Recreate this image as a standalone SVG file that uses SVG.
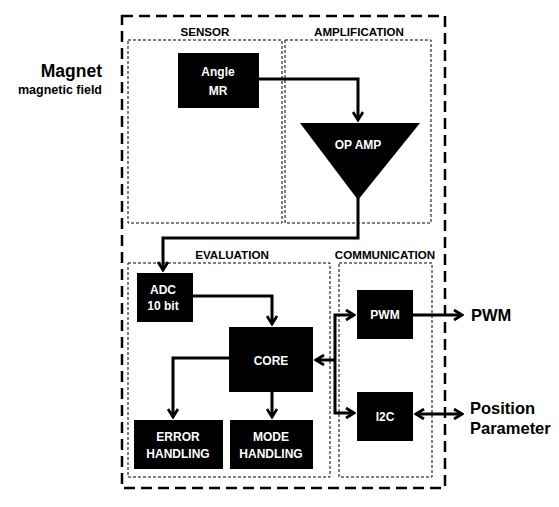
<svg xmlns="http://www.w3.org/2000/svg" width="559" height="507" viewBox="0 0 559 507">
<defs>
<style>
text{font-family:"Liberation Sans",Arial,sans-serif;font-weight:bold}
.box{fill:#000}
.wt{fill:#fff;font-size:12px;text-anchor:middle}
.sec{fill:#000;font-size:11.6px;text-anchor:middle}
.area{fill:none;stroke:#000;stroke-width:1;stroke-dasharray:3,2}
.c{fill:none;stroke:#000;stroke-width:3}
.out{font-size:16.5px}
</style>
<marker id="ah" viewBox="0 0 12 12" refX="10" refY="6" markerWidth="12" markerHeight="12" markerUnits="userSpaceOnUse" orient="auto-start-reverse">
<path d="M2,1 L10,6 L2,11" fill="none" stroke="#000" stroke-width="2.8"/>
</marker>
</defs>
<rect width="559" height="507" fill="#fff"/>
<g id="outer"><rect x="122" y="16" width="323" height="472" fill="none" stroke="#000" stroke-width="2.5" stroke-dasharray="11,6"/></g>
<g id="magnet">
<text x="102" y="77" font-size="17.5" text-anchor="end">Magnet</text>
<text x="102" y="94" font-size="12.5" text-anchor="end">magnetic field</text>
</g>
<g id="sensor"><rect class="area" x="128" y="40" width="154" height="183"/><text class="sec" x="205" y="36">SENSOR</text></g>
<g id="amplification"><rect class="area" x="285" y="40" width="146" height="183"/><text class="sec" x="359" y="36">AMPLIFICATION</text></g>
<g id="evaluation"><rect class="area" x="128" y="263" width="202" height="214"/><text class="sec" x="232" y="259">EVALUATION</text></g>
<g id="communication"><rect class="area" x="339" y="263" width="93" height="214"/><text class="sec" x="385" y="259">COMMUNICATION</text></g>
<g id="connectors">
<polyline class="c" points="259,79 358,79 358,120" marker-end="url(#ah)"/>
<polyline class="c" points="358,198 358,238 163,238 163,270" marker-end="url(#ah)"/>
<polyline class="c" points="193,296 272,296 272,324" marker-end="url(#ah)"/>
<polyline class="c" points="229,358 173,358 173,417" marker-end="url(#ah)"/>
<line class="c" x1="272" y1="392" x2="272" y2="417" marker-end="url(#ah)"/>
<line class="c" x1="335" y1="360" x2="316" y2="360" marker-end="url(#ah)"/>
<polyline class="c" points="354,315 335,315 335,413 354,413" marker-start="url(#ah)" marker-end="url(#ah)"/>
<line class="c" x1="413" y1="315" x2="462" y2="315" marker-end="url(#ah)"/>
<line class="c" x1="416" y1="414" x2="462" y2="414" marker-start="url(#ah)" marker-end="url(#ah)"/>
</g>
<g id="angle-mr"><rect class="box" x="178" y="53" width="81" height="55"/><text class="wt" x="218" y="76">Angle</text><text class="wt" x="218" y="95">MR</text></g>
<g id="op-amp"><polygon class="box" points="300,123 420,123 358,200"/><text class="wt" x="358" y="149">OP AMP</text></g>
<g id="adc"><rect class="box" x="137" y="273" width="56" height="49"/><text class="wt" x="163" y="294">ADC</text><text class="wt" x="163" y="310">10 bit</text></g>
<g id="core"><rect class="box" x="229" y="327" width="84" height="65"/><text class="wt" x="271" y="365">CORE</text></g>
<g id="error-handling"><rect class="box" x="134" y="420" width="89" height="49"/><text class="wt" x="178" y="441">ERROR</text><text class="wt" x="178" y="458">HANDLING</text></g>
<g id="mode-handling"><rect class="box" x="230" y="420" width="83" height="49"/><text class="wt" x="271" y="441">MODE</text><text class="wt" x="271" y="458">HANDLING</text></g>
<g id="pwm"><rect class="box" x="357" y="290" width="56" height="49"/><text class="wt" x="385" y="319">PWM</text></g>
<g id="i2c"><rect class="box" x="357" y="392" width="56" height="49"/><text class="wt" x="385" y="421">I2C</text></g>
<g id="outputs">
<text class="out" x="471" y="321">PWM</text>
<text class="out" x="470" y="414">Position</text>
<text class="out" x="470" y="434">Parameter</text>
</g>
</svg>
